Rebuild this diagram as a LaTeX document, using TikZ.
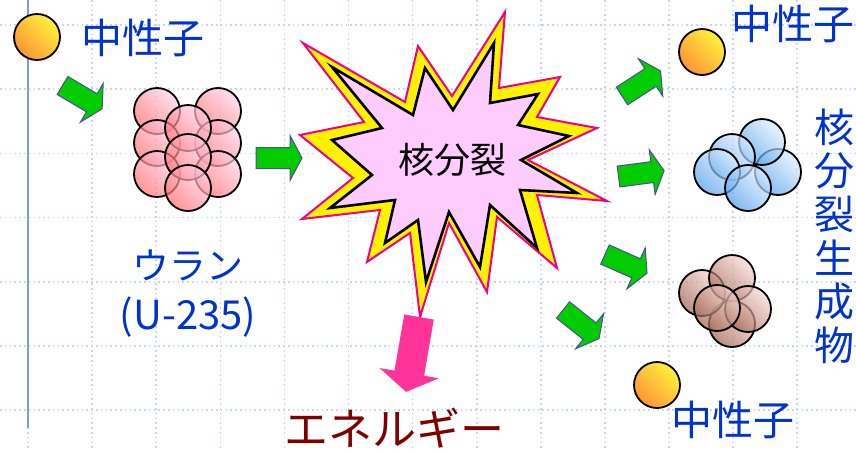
\documentclass[tikz,border=0pt]{standalone}
\usepackage{fontspec}
\newfontfamily\jp{Noto Sans CJK JP}
\definecolor{gridblue}{HTML}{C5D5F5}
\definecolor{axisblue}{HTML}{7A9AF0}
\definecolor{labelblue}{HTML}{0033CC}
\definecolor{energyred}{HTML}{800000}
\definecolor{arrowgreen}{HTML}{00CC00}
\definecolor{arrowedge}{HTML}{4D4D99}
\definecolor{energypink}{HTML}{FF3399}
\definecolor{burstpink}{HTML}{FFCCFF}
\definecolor{neutronlight}{HTML}{FFF23A}
\definecolor{neutrondark}{HTML}{FF9438}
\definecolor{uralight}{HTML}{FFD2EC}
\definecolor{uradark}{HTML}{FF6A6A}
\definecolor{bluelight}{HTML}{E2F1FF}
\definecolor{bluedark}{HTML}{4C9CEC}
\definecolor{brownlight}{HTML}{F8D8D4}
\definecolor{browndark}{HTML}{A0604C}
\begin{document}
\begin{tikzpicture}[x=1pt,y=-1pt,
  gridline/.style={draw=gridblue, line width=1.6pt, dash pattern=on 1.6pt off 3.2pt},
  particle/.style={circle, draw=black, line width=1.8pt, minimum size=46pt, inner sep=0pt},
  neutron/.style={particle, top color=neutronlight, bottom color=neutrondark, shading angle=-45},
  uranium/.style={particle, fill opacity=0.7, top color=uralight, bottom color=uradark, shading angle=-45},
  lightfrag/.style={particle, fill opacity=0.7, top color=bluelight, bottom color=bluedark, shading angle=-45},
  heavyfrag/.style={particle, fill opacity=0.7, top color=brownlight, bottom color=browndark, shading angle=-45},
  label/.style={text=labelblue, inner sep=0pt, font=\jp\fontsize{41}{41}\selectfont},
  blockarrow/.pic={\draw[fill=arrowgreen, draw=arrowedge, line width=1pt, line join=miter]
    (0,-10.5) -- (34,-10.5) -- (34,-22.5) -- (46,0) -- (34,22.5) -- (34,10.5) -- (0,10.5) -- cycle;},
  energyarrow/.pic={\fill[energypink]
    (0,-15) -- (57,-15) -- (57,-30) -- (76,0) -- (57,30) -- (57,15) -- (0,15) -- cycle;}
]
\useasboundingbox (0,0) rectangle (856,451);
\fill[white] (0,0) rectangle (856,451);

% dotted background grid
\foreach \k in {0,...,12} \draw[gridline] (28+64.1*\k,0) -- (28+64.1*\k,451);
\foreach \k in {0,...,6} \draw[gridline] (0,25+64.2*\k) -- (856,25+64.2*\k);
\draw[axisblue, line width=1.8pt] (28,0) -- (28,428);

% incoming neutron
\node[neutron] (n0) at (37,37) {};
\node[label] (n0lab) at (143,38) {中性子};
\pic[rotate=-30.5] at (62.5,85.5) {blockarrow};

% uranium-235 nucleus
\foreach \x/\y [count=\i] in {157/111,157/143,157/174,218/111,218/143,218/174,188/128,188/157,188/188}
  \node[uranium] (u\i) at (\x,\y) {};
\node[label, font=\jp\fontsize{37}{37}\selectfont] (ulab) at (188,265) {ウラン};
\node[label, font=\jp\fontsize{40}{40}\selectfont] (uiso) at (188,317) {(U-235)};
\pic at (256,158) {blockarrow};

% fission burst
\coordinate (burstc) at (452,160);
\filldraw[fill=yellow, draw=magenta, line width=2pt, line join=miter]
  (303,43) -- (405,102) -- (418,46) -- (452,96) -- (505,12) -- (499,88) -- (560,77)
  -- (537,117) -- (597,128) -- (528,160) -- (607,201) -- (537,195) -- (557,268)
  -- (497,217) -- (487,292) -- (449,223) -- (420,317) -- (410,233) -- (367,262)
  -- (380,210) -- (302,219) -- (353,178) -- (300,135) -- (364,122) -- cycle;
\filldraw[fill=burstpink, draw=black, line width=2.6pt, line join=miter]
  (332,67) -- (413,115) -- (425,68) -- (453,110) -- (494,43) -- (490,103) -- (538,94)
  -- (518,125) -- (569,136) -- (521,160) -- (577,193) -- (520,190) -- (537,248)
  -- (490,205) -- (480,267) -- (449,212) -- (426,282) -- (418,220) -- (385,243)
  -- (395,200) -- (330,208) -- (372,175) -- (332,140) -- (382,128) -- cycle;
\node[inner sep=0pt, font=\jp\fontsize{36}{36}\selectfont] (fis) at (burstc) {核分裂};

% released energy
\pic[rotate=-99.8] at (419,317) {energyarrow};
\node[inner sep=0pt, text=energyred, font=\jp\fontsize{44}{44}\selectfont] (energy) at (394,428) {エネルギー};

% outgoing arrows
\pic[rotate=33] at (622,96) {blockarrow};
\pic[rotate=7.4] at (618.5,176.5) {blockarrow};
\pic[rotate=-24] at (605,254.5) {blockarrow};
\pic[rotate=-38.5] at (563,310) {blockarrow};

% products
\node[neutron] (n1) at (702,52) {};
\node[label] (n1lab) at (793,24) {中性子};
\foreach \x/\y [count=\i] in {778/172,762/142,732/157,717/172,748/188}
  \node[lightfrag] (b\i) at (\x,\y) {};
\foreach \x/\y [count=\i] in {732/324,702/293,732/278,748/309,717/308}
  \node[heavyfrag] (h\i) at (\x,\y) {};
\node[neutron] (n2) at (657,385) {};
\node[label] (n2lab) at (733,420) {中性子};
\node[label, align=center, font=\jp\fontsize{40}{43.6}\selectfont] (prod) at (834,236) {核\\分\\裂\\生\\成\\物};
\end{tikzpicture}
\end{document}
